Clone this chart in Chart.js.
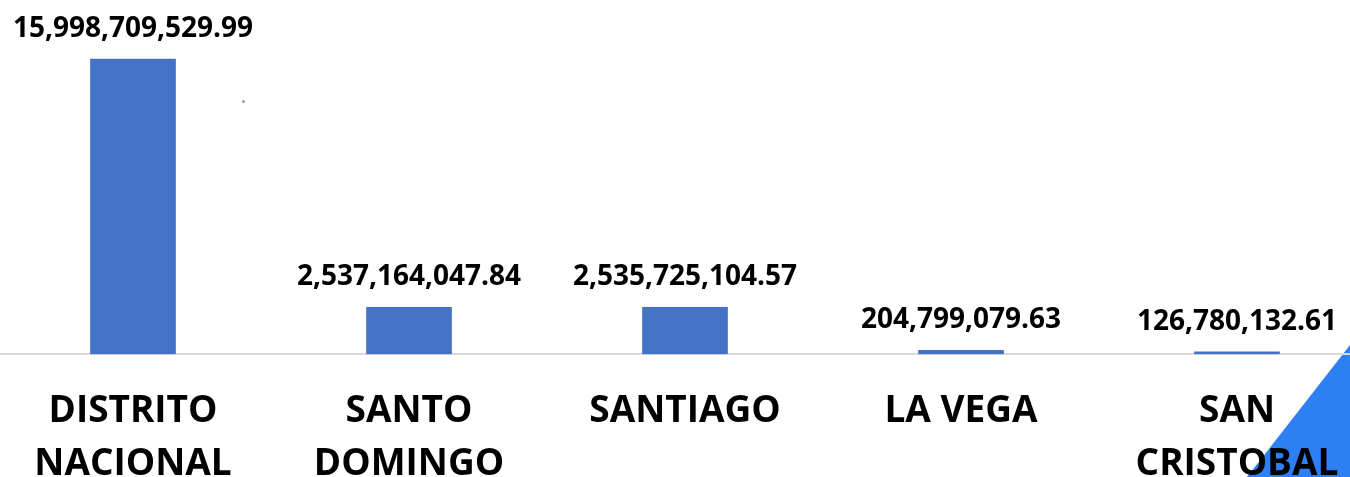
<!DOCTYPE html>
<html>
<head>
<meta charset="utf-8">
<script src="https://cdn.jsdelivr.net/npm/chart.js@4/dist/chart.umd.min.js"></script>
<style>
  html, body { margin: 0; padding: 0; background: #fff; overflow: hidden; }
  #wrap { position: absolute; left: -5px; top: 0; width: 1380px; height: 522px; }
  #corner { position: absolute; left: 0; top: 0; width: 1350px; height: 477px;
    background: #2e7ff4; clip-path: polygon(1350px 345px, 1350px 477px, 1247px 477px); }
  #dot { position: absolute; left: 242px; top: 100px; width: 3px; height: 3px; border-radius: 50%; background: #999; }
</style>
</head>
<body>
<div id="corner"></div>
<div id="dot"></div>
<div id="wrap"><canvas id="myChart"></canvas></div>
<script>
const categories = [
  ['DISTRITO', 'NACIONAL'],
  ['SANTO', 'DOMINGO'],
  ['SANTIAGO'],
  ['LA VEGA'],
  ['SAN', 'CRISTOBAL'],
];
const montos = [15998709529.99, 2537164047.84, 2535725104.57, 204799079.63, 126780132.61];
const valueLabels = ['15,998,709,529.99', '2,537,164,047.84', '2,535,725,104.57', '204,799,079.63', '126,780,132.61'];

// etiquetas encima de cada barra
const barLabels = {
  id: 'barLabels',
  afterDatasetsDraw(chart) {
    const { ctx } = chart;
    const meta = chart.getDatasetMeta(0);
    ctx.save();
    ctx.font = 'bold 28px "Open Sans"';
    ctx.fillStyle = '#000';
    ctx.textAlign = 'center';
    ctx.textBaseline = 'alphabetic';
    meta.data.forEach((bar, i) => {
      ctx.fillText(valueLabels[i], bar.x, bar.y - 22);
    });
    ctx.restore();
  },
};

const data = {
  labels: categories,
  datasets: [
    {
      data: montos,
      backgroundColor: '#4472c4',
      barThickness: 85,
    },
  ],
};

const config = {
  type: 'bar',
  data: data,
  options: {
    responsive: true,
    maintainAspectRatio: false,
    animation: false,
    layout: { padding: 0 },
    plugins: { legend: { display: false }, tooltip: { enabled: false } },
    scales: {
      x: {
        grid: { display: false, drawTicks: false },
        border: { display: true, color: '#d9d9d9', width: 2 },
        ticks: {
          color: '#000',
          padding: 31,
          maxRotation: 0,
          autoSkip: false,
          font: { family: 'Open Sans', weight: 'bold', size: 37, lineHeight: 1.43 },
        },
      },
      y: {
        display: false,
        min: 0,
        max: 19200000000,
      },
    },
  },
  plugins: [barLabels],
};

const myChart = new Chart(document.getElementById('myChart'), config);
</script>
</body>
</html>
